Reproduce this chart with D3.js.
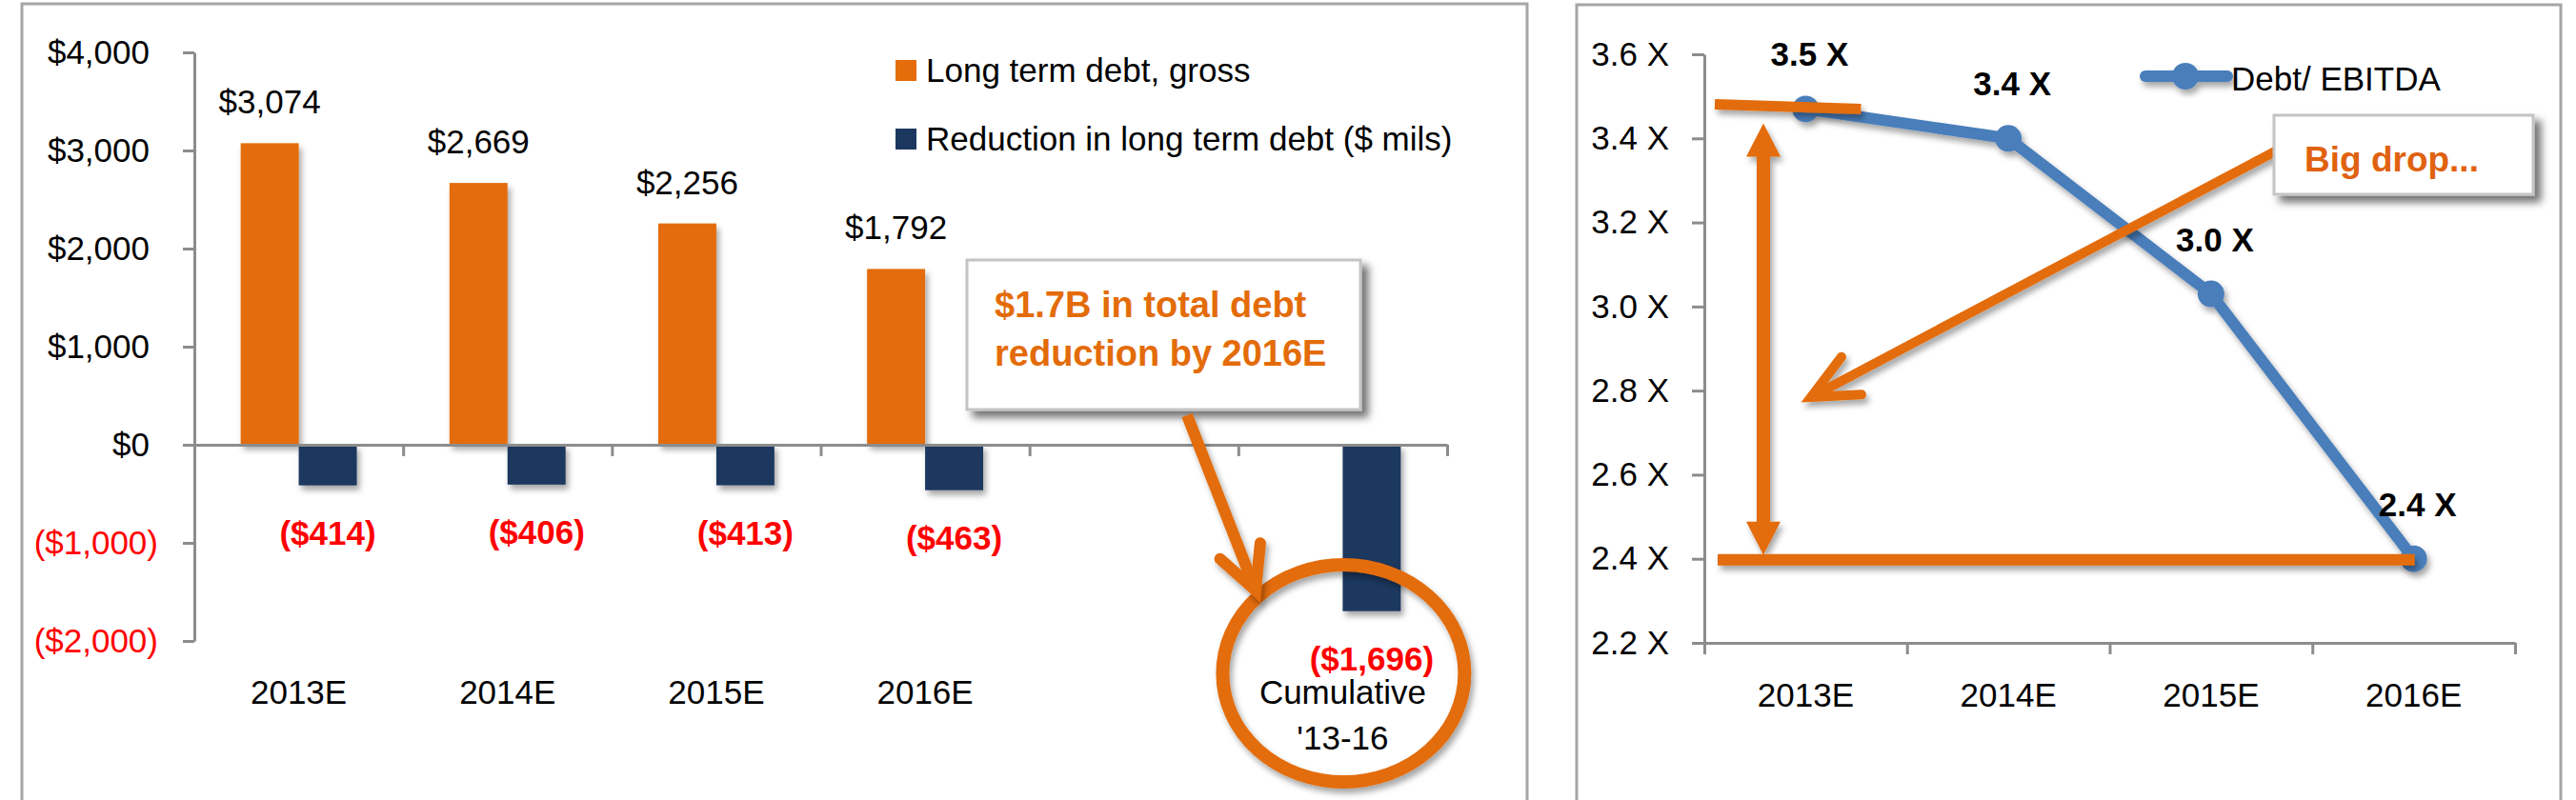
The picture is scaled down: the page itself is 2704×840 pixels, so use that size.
<!DOCTYPE html>
<html><head><meta charset="utf-8">
<script src="https://cdn.jsdelivr.net/npm/d3@7"></script>
<style>
body{margin:0;background:#fff}
svg{display:block}
text{font-family:"Liberation Sans",Arial,sans-serif}
</style>
</head><body>
<svg id="chart" width="2704" height="840"></svg>
<script>
// ---------- data ----------
const categories = ["2013E","2014E","2015E","2016E","","Cumulative\n'13-16"];
const grossDebt = [3074, 2669, 2256, 1792, null, null];
const debtReduction = [-414, -406, -413, -463, null, -1696];
const debtTicks = [4000, 3000, 2000, 1000, 0, -1000, -2000];
const seriesNames = ["Long term debt, gross", "Reduction in long term debt ($ mils)"];
const calloutLeft = ["$1.7B in total debt", "reduction by 2016E"];

const ratioYears = ["2013E","2014E","2015E","2016E"];
const debtToEbitda = [3.47, 3.40, 3.03, 2.40];
const ratioLabels = ["3.5 X","3.4 X","3.0 X","2.4 X"];
const ratioTicks = [3.6, 3.4, 3.2, 3.0, 2.8, 2.6, 2.4, 2.2];
const ratioName = "Debt/ EBITDA";
const calloutRight = "Big drop...";

// ---------- styles ----------
const ORANGE = "#E46C0A", NAVY = "#1B375F", RED = "#FF0000", BLUE = "#4A7EBB";
const ANNO = "#E36C09", AXIS = "#8c8c8c", FRAME = "#a6a6a6";
const FS = 35;

const svg = d3.select("#chart");
svg.append("rect").attr("width",2704).attr("height",840).attr("fill","#fff");

const defs = svg.append("defs");
function shadow(id, dx, dy, sd, op){
  defs.append("filter").attr("id",id).attr("x","-20%").attr("y","-20%").attr("width","150%").attr("height","150%")
    .append("feDropShadow").attr("dx",dx).attr("dy",dy).attr("stdDeviation",sd)
    .attr("flood-color","#000").attr("flood-opacity",op);
}
shadow("sh", 3, 5, 3, 0.35);
shadow("boxsh", 7, 7, 4, 0.55);

// panel frames
svg.append("rect").attr("x",23).attr("y",4).attr("width",1580).attr("height",860)
  .attr("fill","none").attr("stroke",FRAME).attr("stroke-width",3);
svg.append("rect").attr("x",1655).attr("y",5).attr("width",1033).attr("height",860)
  .attr("fill","none").attr("stroke",FRAME).attr("stroke-width",3);

// ================= LEFT CHART =================
const L = svg.append("g");
const xL = d3.scaleBand().domain(d3.range(categories.length)).range([204, 1519]);
const yL = d3.scaleLinear().domain([-2000, 4000]).range([673, 55]);
const bw = xL.bandwidth() * 0.278;
const cxL = i => xL(i) + xL.bandwidth() / 2;
const money = v => v < 0 ? "($" + d3.format(",")(-v) + ")" : "$" + d3.format(",")(v);

// y axis
const yAxL = L.append("g").attr("transform","translate(204,0)")
  .call(d3.axisLeft(yL).tickValues(debtTicks).tickSize(12).tickSizeOuter(0).tickPadding(26).tickFormat(money));
yAxL.select(".domain").attr("stroke",AXIS).attr("stroke-width",3);
yAxL.selectAll(".tick line").attr("stroke",AXIS).attr("stroke-width",3);
yAxL.selectAll(".tick text").attr("font-size",FS).attr("font-family",'"Liberation Sans",Arial,sans-serif')
  .attr("fill", d => d < 0 ? RED : "#000")
  .attr("dx", d => d < 0 ? 0 : -9);

// bars
const idx = d3.range(categories.length);
L.append("g").attr("filter","url(#sh)").selectAll("rect.g").data(idx.filter(i => grossDebt[i] != null)).join("rect")
  .attr("x", i => cxL(i) - bw).attr("width", bw)
  .attr("y", i => yL(grossDebt[i])).attr("height", i => yL(0) - yL(grossDebt[i]))
  .attr("fill", ORANGE);
L.append("g").attr("filter","url(#sh)").selectAll("rect.n").data(idx.filter(i => debtReduction[i] != null)).join("rect")
  .attr("x", i => cxL(i)).attr("width", bw)
  .attr("y", yL(0)).attr("height", i => yL(debtReduction[i]) - yL(0))
  .attr("fill", NAVY);

// x axis (zero line with category-boundary ticks)
const xEdges = d3.scaleLinear().domain([0, categories.length]).range(xL.range());
const xAxL = L.append("g").attr("transform",`translate(0,${yL(0)})`)
  .call(d3.axisBottom(xEdges).ticks(categories.length).tickSize(12).tickSizeOuter(0).tickFormat(""));
xAxL.select(".domain").attr("stroke",AXIS).attr("stroke-width",3);
xAxL.selectAll(".tick line").attr("stroke",AXIS).attr("stroke-width",3);

// category labels (low position)
idx.forEach(i => {
  const lines = categories[i].split("\n");
  const t = L.append("text").attr("text-anchor","middle").attr("font-size",FS).attr("fill","#000");
  lines.forEach((s, k) => t.append("tspan").attr("x", cxL(i)).attr("y", yL.range()[0] + 66 + k * 48).text(s));
});

// value labels
L.selectAll("text.gv").data(idx.filter(i => grossDebt[i] != null)).join("text")
  .attr("x", i => cxL(i) - bw / 2).attr("y", i => yL(grossDebt[i]) - 31)
  .attr("text-anchor","middle").attr("font-size",FS).attr("fill","#000")
  .text(i => money(grossDebt[i]));
L.selectAll("text.nv").data(idx.filter(i => debtReduction[i] != null)).join("text")
  .attr("x", i => cxL(i) + bw / 2).attr("y", i => yL(debtReduction[i]) + 62)
  .attr("text-anchor","middle").attr("font-size",FS).attr("font-weight","bold").attr("fill",RED)
  .text(i => money(debtReduction[i]));

// legend
[ORANGE, NAVY].forEach((c, k) => {
  L.append("rect").attr("x",940).attr("y",63 + k * 72).attr("width",22).attr("height",22).attr("fill",c);
  L.append("text").attr("x",972).attr("y",74 + k * 72).attr("dy","0.35em").attr("font-size",35)
    .attr("fill","#000").text(seriesNames[k]);
});

// callout box
L.append("rect").attr("x",1015).attr("y",273).attr("width",413).attr("height",157)
  .attr("fill","#fff").attr("stroke","#c4c4c4").attr("stroke-width",3).attr("filter","url(#boxsh)");
calloutLeft.forEach((s, k) => {
  L.append("text").attr("x",1044).attr("y",333 + k * 51).attr("font-size",38).attr("font-weight","bold")
    .attr("fill",ANNO).text(s);
});

// arrow helper
function arrow(g, x1, y1, x2, y2, w, armLen, ang){
  const a = Math.atan2(y1 - y2, x1 - x2);
  const r = ang * Math.PI / 180;
  const p1 = [x2 + armLen * Math.cos(a + r), y2 + armLen * Math.sin(a + r)];
  const p2 = [x2 + armLen * Math.cos(a - r), y2 + armLen * Math.sin(a - r)];
  const grp = g.append("g").attr("filter","url(#sh)");
  grp.append("line").attr("x1",x1).attr("y1",y1).attr("x2",x2 + 3*Math.cos(a)).attr("y2",y2 + 3*Math.sin(a))
    .attr("stroke",ANNO).attr("stroke-width",w);
  grp.append("path").attr("d",`M${p1[0]},${p1[1]}L${x2},${y2}L${p2[0]},${p2[1]}`)
    .attr("fill","none").attr("stroke",ANNO).attr("stroke-width",w)
    .attr("stroke-linecap","round").attr("stroke-linejoin","miter");
}

// circle around cumulative bar
const cumI = categories.length - 1;
L.append("ellipse").attr("cx", cxL(cumI) + 1).attr("cy", 707).attr("rx",127).attr("ry",114)
  .attr("fill","none").attr("stroke",ANNO).attr("stroke-width",14).attr("filter","url(#sh)");
arrow(L, 1246, 436, 1318, 620, 12, 50, 27);

// ================= RIGHT CHART =================
const R = svg.append("g");
const xR = d3.scaleBand().domain(ratioYears).range([1789, 2640]);
const yR = d3.scaleLinear().domain([2.2, 3.6]).range([675, 57]);
const cxR = d => xR(d) + xR.bandwidth() / 2;

const yAxR = R.append("g").attr("transform","translate(1789,0)")
  .call(d3.axisLeft(yR).tickValues(ratioTicks).tickSize(13).tickSizeOuter(0).tickPadding(24)
    .tickFormat(v => d3.format(".1f")(v) + " X"));
yAxR.select(".domain").attr("stroke",AXIS).attr("stroke-width",3);
yAxR.selectAll(".tick line").attr("stroke",AXIS).attr("stroke-width",3);
yAxR.selectAll(".tick text").attr("font-size",FS).attr("fill","#000")
  .attr("font-family",'"Liberation Sans",Arial,sans-serif');

const rEdges = d3.scaleLinear().domain([0, ratioYears.length]).range(xR.range());
const xAxR = R.append("g").attr("transform",`translate(0,${yR(2.2)})`)
  .call(d3.axisBottom(rEdges).ticks(ratioYears.length).tickSize(12).tickSizeOuter(0).tickFormat(""));
xAxR.select(".domain").attr("stroke",AXIS).attr("stroke-width",3);
xAxR.selectAll(".tick line").attr("stroke",AXIS).attr("stroke-width",3);

R.selectAll("text.cat").data(ratioYears).join("text")
  .attr("x", cxR).attr("y", yR(2.2) + 67).attr("text-anchor","middle").attr("font-size",FS).attr("fill","#000")
  .text(d => d);

// line + markers
const pts = ratioYears.map((d, i) => [cxR(d), yR(debtToEbitda[i])]);
const lg = R.append("g").attr("filter","url(#sh)");
lg.append("path").attr("d", d3.line()(pts)).attr("fill","none").attr("stroke",BLUE).attr("stroke-width",12)
  .attr("stroke-linejoin","round");
lg.selectAll("circle").data(pts).join("circle").attr("cx", p => p[0]).attr("cy", p => p[1]).attr("r",14)
  .attr("fill",BLUE);

// data labels
R.selectAll("text.dl").data(ratioYears).join("text")
  .attr("x", d => cxR(d) + 4).attr("y", (d, i) => yR(debtToEbitda[i]) - 45)
  .attr("text-anchor","middle").attr("font-size",35).attr("font-weight","bold").attr("fill","#000")
  .text((d, i) => ratioLabels[i]);

// legend
const lgd = R.append("g").attr("filter","url(#sh)");
lgd.append("line").attr("x1",2252).attr("x2",2338).attr("y1",80).attr("y2",80).attr("stroke",BLUE)
  .attr("stroke-width",12).attr("stroke-linecap","round");
lgd.append("circle").attr("cx",2294).attr("cy",80).attr("r",14).attr("fill",BLUE);
R.append("text").attr("x",2342).attr("y",83).attr("dy","0.35em").attr("font-size",35).attr("fill","#000").text(ratioName);

// annotations
const y0 = yR(debtToEbitda[0]), yEnd = yR(debtToEbitda[debtToEbitda.length - 1]);
const x0 = cxR(ratioYears[0]), xEnd = cxR(ratioYears[ratioYears.length - 1]);
const an = R.append("g").attr("filter","url(#sh)");
an.append("line").attr("x1", xR(ratioYears[0]) + 11).attr("y1", y0 - 5).attr("x2", x0 + 58).attr("y2", y0)
  .attr("stroke",ANNO).attr("stroke-width",11);
an.append("line").attr("x1", xR(ratioYears[0]) + 14).attr("y1", yEnd + 1).attr("x2", xEnd + 1).attr("y2", yEnd + 1)
  .attr("stroke",ANNO).attr("stroke-width",12);
// vertical double-headed arrow
const ax = xR(ratioYears[0]) + 62, tTop = y0 + 15, tBot = yEnd - 4, hh = 35, hw = 18, sw = 7;
an.append("path").attr("fill",ANNO).attr("d",
  `M${ax},${tTop}L${ax+hw},${tTop+hh}L${ax+sw},${tTop+hh}L${ax+sw},${tBot-hh}L${ax+hw},${tBot-hh}` +
  `L${ax},${tBot}L${ax-hw},${tBot-hh}L${ax-sw},${tBot-hh}L${ax-sw},${tTop+hh}L${ax-hw},${tTop+hh}Z`);

// "Big drop..." box + arrow
arrow(R, 2390, 158, 1901, 417, 10, 53, 25);
R.append("rect").attr("x",2387).attr("y",121).attr("width",272).attr("height",83)
  .attr("fill","#fff").attr("stroke","#c4c4c4").attr("stroke-width",3).attr("filter","url(#boxsh)");
R.append("text").attr("x",2419).attr("y",180).attr("font-size",37).attr("font-weight","bold")
  .attr("fill","#E0620F").text(calloutRight);
</script>
</body></html>
